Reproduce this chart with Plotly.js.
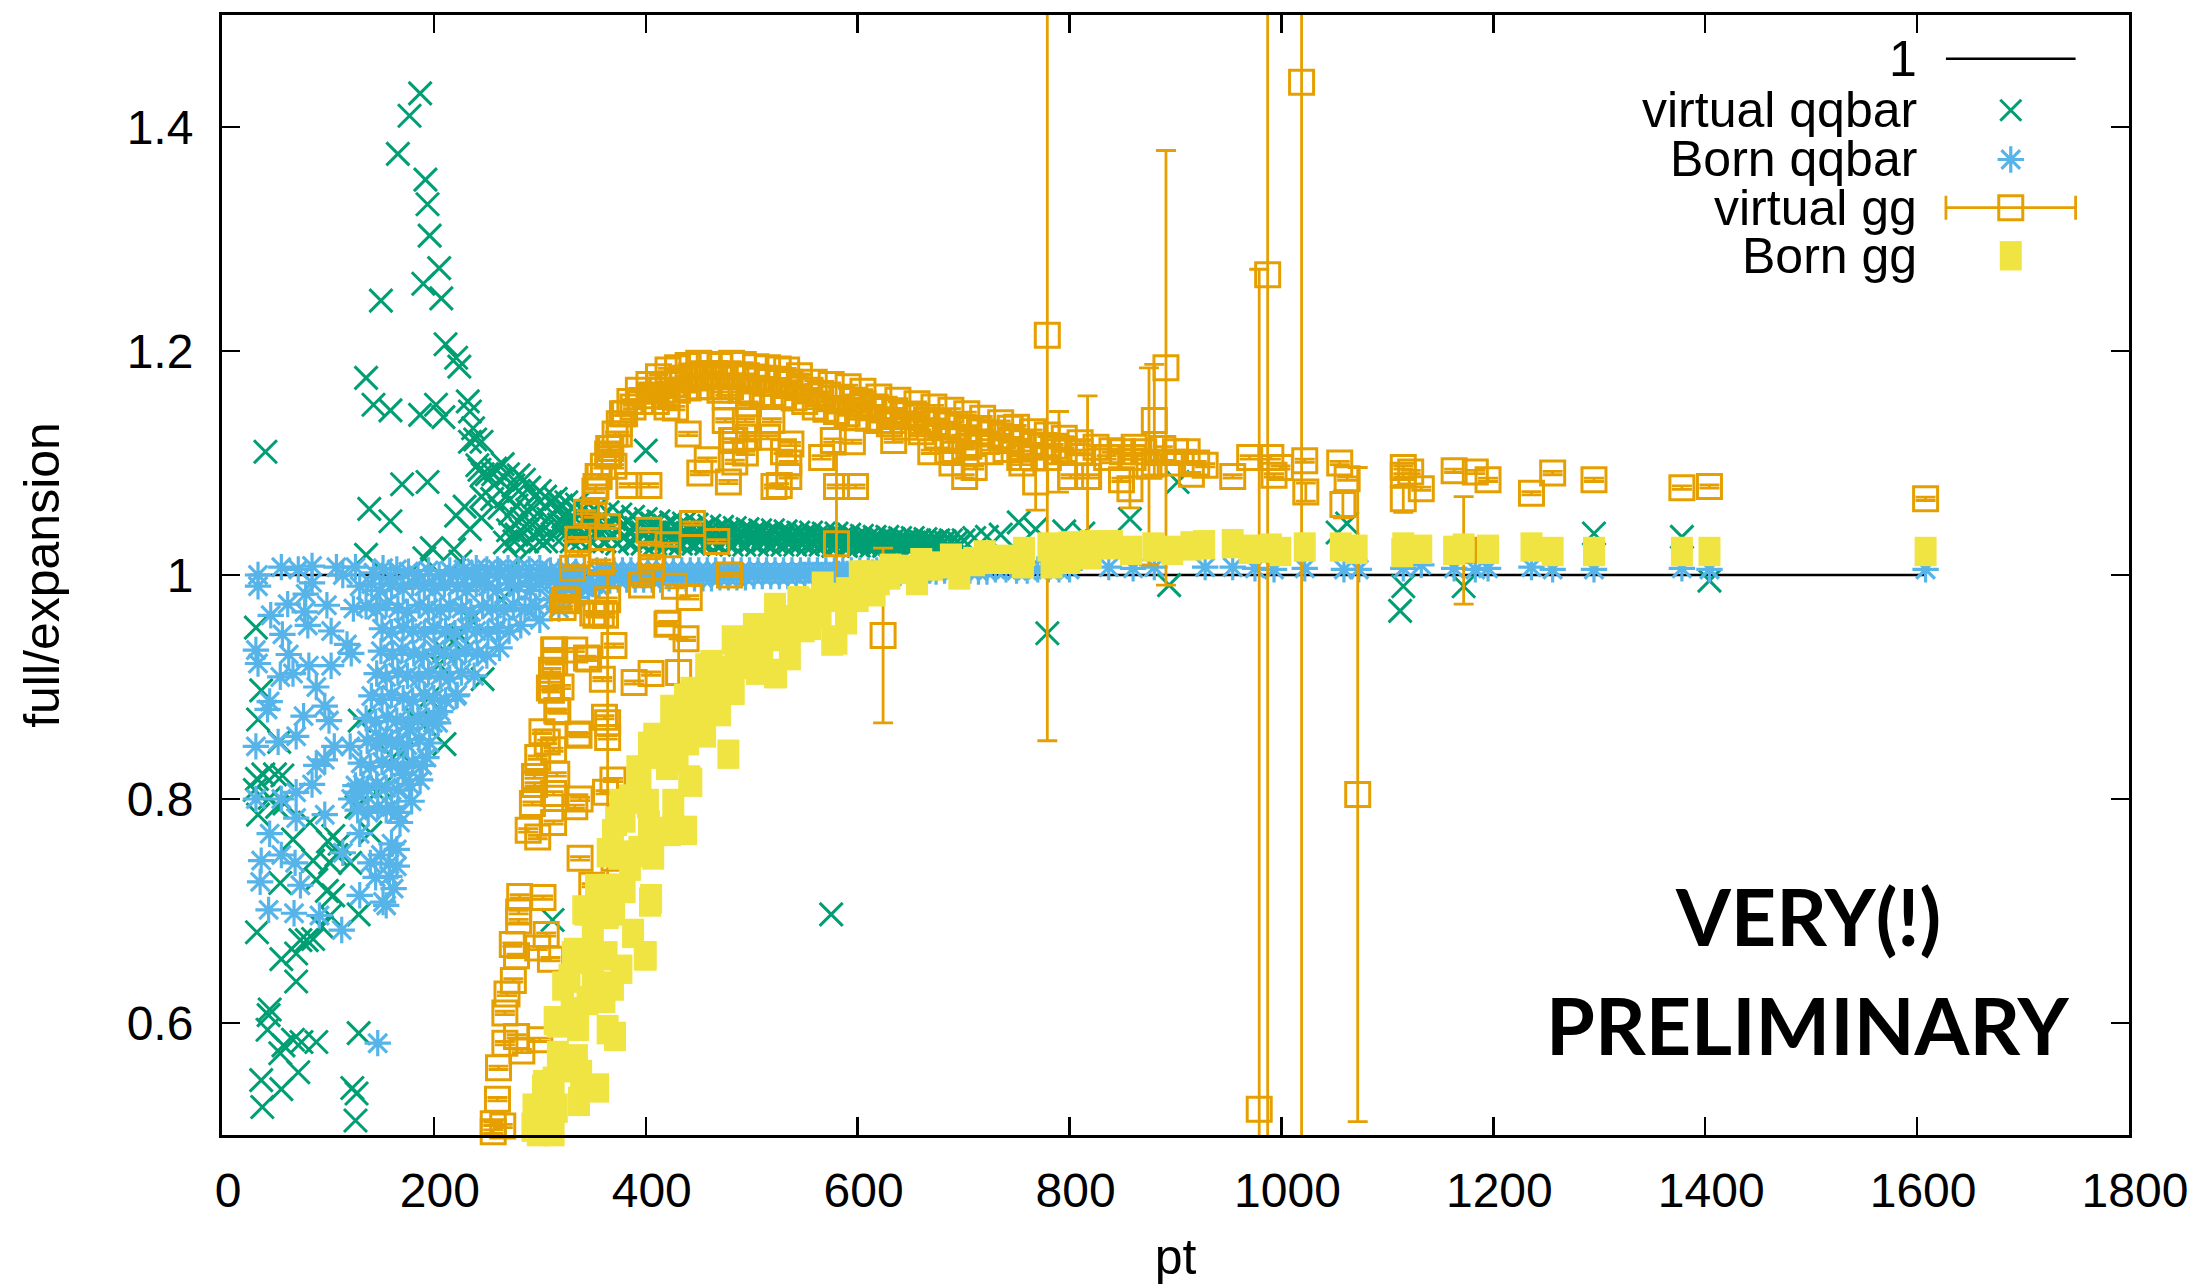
<!DOCTYPE html>
<html><head><meta charset="utf-8">
<script src="https://cdn.plot.ly/plotly-3.0.1.min.js"></script>
<style>html,body{margin:0;padding:0;background:#fff}</style></head>
<body><div id="chart" style="width:2211px;height:1285px"></div>
<script>
const unityPt = [25, 1607];
const unityRatio = [1, 1];
const virtualQQ = [[187,1.43],[177,1.41],[166,1.376],[192,1.353],[194,1.331],[196,1.303],[205,1.274],[190,1.26],[207,1.247],[150,1.245],[211,1.206],[221,1.194],[224,1.186],[136,1.176],[143,1.152],[159,1.147],[187,1.143],[202,1.152],[209,1.141],[232,1.155],[234,1.146],[237,1.131],[239,1.121],[245,1.119],[234,1.119],[41,1.11],[400,1.111],[243,1.094],[241,1.098],[246,1.09],[265,1.099],[256,1.09],[280,1.089],[170,1.081],[194,1.083],[139,1.059],[159,1.048],[136,1.018],[229,1.061],[221,1.053],[245,1.07],[245,1.051],[234,1.041],[198,1.024],[191,1.015],[219,1.023],[225,1.012],[267,1.029],[281,1.014],[278,1.036],
[32,.953],[37,.897],[34,.871],[54,.851],[33,.818],[39,.822],[50,.822],[57,.821],[31,.808],[45,.801],[59,.796],[34,.786],[52,.793],[83,.779],[67,.764],[105,.767],[111,.76],[100,.762],[86,.745],[102,.743],[121,.743],[55,.725],[89,.728],[99,.718],[105,.714],[33,.681],[74,.674],[80,.674],[86,.675],[129,.697],[102,.696],[94,.686],[56,.657],[70,.662],[70,.637],[45,.612],[44,.607],[43,.594],[58,.58],[67,.585],[75,.583],[89,.583],[129,.591],[55,.573],[72,.556],[37,.549],[56,.541],[123,.542],[127,.537],[38,.525],[126,.513],[312,.692],[575,.697],
[264,.978],[225,.946],[210,.932],[246,.907],[210,.849],[161,.837],[146,.806],[130,.87],[127,.793],[140,.77],[150,.81],[170,.84],[185,.87],[195,.89],[218,.94],[205,.92],[235,.96],[108,.75],
[250,1.09],[258,1.095],[262,1.085],[270,1.09],[275,1.08],[280,1.075],[285,1.085],[290,1.078],[295,1.07],[300,1.075],[305,1.07],[310,1.065],[315,1.068],[320,1.062],[325,1.065],[330,1.06],[335,1.063],[255,1.068],[262,1.06],[268,1.07],[272,1.055],[278,1.062],[283,1.05],[288,1.058],[293,1.045],[298,1.055],[303,1.04],[308,1.05],[313,1.035],[318,1.045],[323,1.035],[328,1.05],[333,1.04],[338,1.03],[270,1.04],[276,1.03],[282,1.04],[288,1.03],[294,1.035],[300,1.03],[306,1.03],[312,1.055],[318,1.06],[322,1.052],[326,1.043],[330,1.03],[334,1.05],[337,1.055],
[340,1.058],[344,1.048],[346,1.054],[350,1.045],[352,1.058],[355,1.04],[358,1.052],[361,1.044],[364,1.056],[367,1.045],[370,1.05],[373,1.04],[376,1.054],[379,1.044],[382,1.048],[385,1.04],[388,1.052],[391,1.042],[394,1.047],[397,1.038],[400,1.05],[403,1.04],[406,1.046],[409,1.038],[412,1.048],[415,1.04],[418,1.044],[421,1.038],[424,1.047],[427,1.038],[430,1.043],[433,1.037],[436,1.046],[439,1.037],[442,1.042],[445,1.036],[448,1.045],[451,1.037],[454,1.041],[457,1.036],[460,1.044],[463,1.036],[466,1.04],[469,1.035],[472,1.043],[475,1.036],[478,1.04],[481,1.035],[484,1.042],[487,1.035],[490,1.039],[493,1.035],[496,1.041],[499,1.035],[502,1.038],[505,1.034],[508,1.04],[511,1.034],[514,1.037],[517,1.034],[520,1.04],[523,1.033],[526,1.037],[529,1.033],[532,1.039],[535,1.033],[538,1.036],[541,1.033],[544,1.038],[547,1.033],[550,1.036],[553,1.032],[556,1.038],[559,1.032],[562,1.035],[565,1.032],[568,1.037],[571,1.032],[574,1.034],[577,1.031],[580,1.037],[583,1.031],[586,1.034],[589,1.031],[592,1.036],[595,1.03],[598,1.033],[601,1.03],[604,1.035],[607,1.03],[610,1.033],[613,1.03],[616,1.034],[619,1.03],[622,1.032],[625,1.029],[628,1.034],[631,1.029],[634,1.032],[637,1.029],[640,1.033],[643,1.029],[646,1.031],[649,1.029],[652,1.033],[655,1.029],[658,1.031],[661,1.029],[664,1.032],[667,1.029],[670,1.03],[673,1.029],[676,1.031],[682,1.03],[688,1.031],[694,1.03],[700,1.031],[710,1.033],[722,1.034],[735,1.036],[752,1.047],[768,1.041],[795,1.039],[813,1.037],[857,1.05],[902,1.083],[894,.991],[779,.948],[1062,1.046],[1053,1.038],[1115,.99],[1112,.968],[1172,.99],[1404,.995],[1295,1.037],[1378,1.034],
[343,1.035],[349,1.03],[355,1.034],[361,1.03],[367,1.034],[373,1.028],[379,1.033],[385,1.03],[391,1.032],[397,1.028],[403,1.031],[409,1.028],[415,1.031],[421,1.028],[427,1.03],[433,1.028],[439,1.03],[445,1.028],[451,1.03],[457,1.028],[463,1.03],[469,1.027],[475,1.03],[481,1.027],[487,1.03],[493,1.027],[499,1.03],[505,1.027],[511,1.03],[517,1.027],[523,1.029],[529,1.027],[535,1.029],[541,1.027],[547,1.029],[553,1.027],[559,1.028],[565,1.027],[571,1.028],[577,1.026],[583,1.028],[589,1.026],[595,1.028],[601,1.026],[607,1.027],[613,1.026],[619,1.027],[625,1.026],[631,1.027],[637,1.026],[643,1.027],[649,1.026],[655,1.027],[661,1.026],[667,1.027],[673,1.026],[679,1.027],[685,1.026],[691,1.027],[697,1.027]];
const bornQQ = [[34,.99],[34,1.0],[46,.964],[62,.974],[79,.983],[99,.973],[78,.967],[81,.955],[57,.947],[103,.95],[124,.97],[118,.938],[122,.93],[32,.933],[34,.921],[63,.929],[82,.919],[103,.919],[55,.909],[67,.912],[89,.9],[45,.887],[97,.883],[77,.874],[101,.87],[43,.88],[32,.847],[53,.851],[70,.856],[106,.847],[121,.847],[97,.835],[89,.83],[85,.813],[70,.806],[32,.8],[56,.8],[70,.783],[97,.786],[45,.769],[56,.75],[37,.745],[69,.743],[36,.726],[74,.723],[44,.701],[68,.698],[92,.696],[113,.683],[152,.708],[130,.714],[147,.582],
[133,.813],[127,.806],[122,.8],[130,.769],[114,.752],[140,.743],[158,.742],[165,.755],[158,.731],[168,.779],[160,.793],[187,.817],[179,.798],[171,.822],[193,.837],[160,.851],[177,.863],[149,.854],[199,.868],[206,.878],[221,.892],[165,.74],[150,.75],[160,.76],[145,.73],[162,.72],[155,.705],
[130,.99],[141,.992],[149,.986],[160,.991],[171,.988],[180,.993],[191,.99],[201,.987],[210,.992],[222,.99],[231,.986],[240,.992],[251,.99],[260,.987],[271,.992],[280,.99],[291,.986],[300,.992],
[136,.972],[146,.969],[155,.974],[166,.97],[175,.967],[186,.973],[195,.97],[206,.968],[215,.973],[226,.97],[235,.967],[246,.972],[255,.97],[266,.968],[275,.973],[286,.97],[296,.972],
[151,.952],[160,.949],[171,.953],[180,.95],[191,.948],[200,.953],[211,.95],[220,.948],[231,.953],[240,.95],[251,.948],[260,.953],[271,.95],[282,.955],
[150,.932],[161,.929],[170,.933],[181,.93],[190,.928],[201,.933],[210,.93],[221,.928],[230,.933],[241,.93],[250,.928],[262,.935],
[146,.912],[155,.909],[166,.913],[175,.91],[186,.908],[195,.913],[206,.91],[215,.908],[226,.913],[238,.91],
[141,.892],[151,.889],[160,.893],[171,.89],[180,.888],[191,.893],[200,.89],[211,.888],[222,.893],
[136,.872],[145,.869],[156,.873],[165,.87],[176,.868],[185,.873],[195,.87],[204,.868],
[137,.852],[146,.849],[155,.853],[166,.85],[175,.848],[186,.853],[196,.85],
[131,.832],[140,.829],[151,.833],[160,.83],[171,.828],[180,.833],[189,.83],
[126,.812],[137,.809],[146,.813],[155,.81],[166,.808],[177,.813],
[128,.79],[138,.788],[147,.793],[155,.79],[166,.788],
[310,.978],[322,.985],[334,.98],[346,.988],[356,.99],[318,.97],[300,.96],
[56,1.007],[72,1.005],[85,1.008],[108,1.007],[126,1.007],[114,1.0],[143,1.002],[159,.998],[176,1.003],[85,.993],[205,1.0],[215,1.004],[228,1.005],[240,1.006],[250,1.005],[260,1.005],[270,1.006],[280,1.005],[290,1.005],[300,1.006],[195,1.004],[185,1.0],[165,1.005],[152,1.006],[236,1.0],[222,1.0],[248,.998],[262,1.0],[276,1.0],[292,.998],[306,1.0],
[310,1.004],[314,.995],[318,1.003],[322,.994],[326,1.005],[330,.995],[334,1.003],[338,.99],[342,1.004],[346,.995],[350,.992],[354,1.004],[358,.995],[362,1.004],[366,.995],[370,1.004],[374,.996],[378,1.004],[382,.996],[386,1.004],[390,.996],[394,1.004],[398,.996],[402,1.004],[406,.996],[410,1.004],[414,.996],[418,1.004],[422,.997],[426,1.004],[430,.997],[434,1.004],[438,.997],[442,1.004],[446,.997],[450,1.004],[454,.997],[458,1.004],[462,.997],[466,1.004],[470,.998],[474,1.004],[478,.998],[482,1.004],[486,.998],[490,1.004],[494,.998],[498,1.004],[502,.999],[506,1.004],[510,.999],[514,1.004],[518,.999],[522,1.004],[526,.999],[530,1.004],[534,.999],[538,1.004],[542,.999],[546,1.004],[550,1.0],[554,1.004],[558,1.0],[562,1.004],[566,1.0],[570,1.004],[574,1.0],[578,1.004],[582,1.001],[586,1.004],[590,1.001],[594,1.004],[598,1.001],[602,1.004],[606,1.001],[610,1.004],[614,1.002],[618,1.004],[622,1.002],[626,1.004],[630,1.002],[636,1.004],[640,1.002],[646,1.004],[650,1.003],[656,1.004],[662,1.003],[668,1.004],[674,1.003],[682,1.004],[690,1.003],[698,1.004],[706,1.004],[714,1.003],[722,1.003],[730,1.005],[740,1.005],[750,1.004],[760,1.004],[770,1.005],[780,1.005],[790,1.005],[800,1.005],
[837,1.007],[860,1.006],[880,1.007],[928,1.007],[954,1.007],[975,1.006],[993,1.005],[1022,1.006],[1059,1.005],[1073,1.005],[1115,1.006],[1132,1.009],[1163,1.006],[1183,1.005],[1195,1.006],[1236,1.007],[1256,1.005],[1295,1.005],[1378,1.006],[1404,1.005],[1608,1.005]];
const virtualGG = [[352,1.075],[356,1.088],[360,1.097],[364,1.108],[367,1.113],[371,1.126],[375,1.135],[378,1.144],[385,1.155],[393,1.165],[403,1.17],[412,1.177],[421,1.183],[430,1.185],[440,1.187],[450,1.189],[460,1.188],[470,1.187],[481,1.189],[492,1.188],[504,1.186],[515,1.185],[525,1.184],[533,1.183],[545,1.178],[559,1.172],[575,1.17],[591,1.168],[605,1.164],[620,1.159],[638,1.156],[656,1.153],[672,1.15],[688,1.147],[703,1.144],[718,1.14],[735,1.136],[750,1.132],[765,1.128],[779,1.125],[795,1.122],[810,1.118],[825,1.114],[850,1.11],[870,1.11],[900,1.11],[920,1.1],
[388,1.15],[395,1.155],[405,1.16],[415,1.165],[425,1.17],[435,1.174],[445,1.176],[455,1.178],[465,1.18],[475,1.178],[485,1.178],[495,1.178],[505,1.176],[515,1.175],[525,1.174],[535,1.172],[545,1.168],[555,1.165],[565,1.162],[575,1.158],[585,1.158],[595,1.156],[605,1.153],[615,1.15],[625,1.148],[635,1.146],[645,1.143],[655,1.142],[665,1.138],[675,1.136],[685,1.134],[695,1.132],[705,1.13],[715,1.128],[725,1.126],[735,1.124],[745,1.12],[755,1.118],[765,1.116],[775,1.115],[785,1.115],[795,1.112],[810,1.11],[835,1.105],[860,1.105],[880,1.1],[895,1.1],
[410,1.155],[420,1.16],[430,1.165],[440,1.167],[450,1.168],[460,1.168],[470,1.165],[480,1.168],[490,1.165],[500,1.164],[510,1.162],[520,1.162],[530,1.16],[540,1.158],[550,1.155],[560,1.15],[570,1.148],[580,1.146],[590,1.144],[600,1.15],[610,1.14],[620,1.138],[630,1.135],[645,1.132],[660,1.128],[675,1.124],[690,1.12],[705,1.115],[725,1.11],[740,1.112],[765,1.105],[780,1.105],
[440,1.126],[458,1.103],[451,1.091],[478,1.083],[484,1.101],[494,1.109],[481,1.12],[497,1.123],[519,1.138],[515,1.123],[537,1.117],[530,1.11],[535,1.1],[535,1.088],[526,1.08],[521,1.079],[566,1.105],[580,1.079],[598,1.079],[577,1.12],[595,1.119],[634,1.12],[634,1.138],[600,1.141],[661,1.135],[669,1.11],[685,1.111],[689,1.1],[710,1.096],[701,1.088],[701,1.114],[753,1.105],[755,1.1],[768,1.083],[779,1.214],[580,1.028],
[420,1.15],[428,1.149],[475,1.159],[497,1.153],[475,1.138],[494,1.138],[484,1.12],[384,1.08],[403,1.08],[353,1.079],[355,1.088],[370,1.097],[365,1.113],[365,1.107],[375,1.126],[380,1.144],
[344,1.056],[351,1.053],[364,1.043],[403,1.04],[444,1.046],[421,1.027],[467,1.03],[336,1.032],[336,1.019],[331,1.006],[358,1.012],[405,1.016],[406,1.007],[479,1.0],[396,.991],[427,.99],[441,.98],[326,.977],[322,.971],[364,.978],[353,.964],[362,.964],[421,.957],[438,.943],[313,.933],[333,.933],[346,.925],[370,.937],[359,.907],[389,.904],[405,.912],[431,.913],[311,.915],[311,.897],[317,.878],[361,.873],[302,.86],[337,.857],[364,.855],
[324,.978],[350,.966],[358,.965],[420,.956],[314,.933],[344,.926],[314,.922],[320,.9],[309,.899],[316,.879],[336,.858],[307,.851],[313,.844],[298,.837],[316,.822],[295,.82],[295,.813],[369,.817],[362,.806],[293,.796],[313,.805],[338,.8],[333,.793],[313,.779],[289,.772],[298,.766],[338,.747],[370,.747],[349,.723],[281,.713],[303,.712],[280,.699],[280,.691],[274,.67],[278,.66],[306,.679],[298,.667],[310,.657],[275,.638],[269,.626],[267,.609],[267,.582],[278,.588],[300,.585],[283,.575],[261,.56],[260,.532],[256,.51],[265,.508],[256,.503],
[744,1.131],[756,1.105],[801,1.088],[818,1.088],[840,1.111],[849,1.085],[857,1.077],[861,1.114],[880,1.138],[888,1.113],[911,1.11],[915,1.09],[928,1.098],[954,1.088],[970,1.105],[990,1.105],[999,1.096],[993,1.089],[1022,1.102],[1023,1.074],[1055,1.1],[1062,1.086],[1058,1.063],[1115,1.096],[1122,1.092],[1115,1.089],[1115,1.068],[1132,1.077],[1163,1.093],[1183,1.092],[1195,1.085],[1236,1.073],[1256,1.091],[1295,1.085],[1378,1.078],[1404,1.079],[1608,1.068],[624,.946],[891,1.185],[1072,.804],[817,1.088],[875,1.097],[790,1.11],[364,.868],[1172,1.022]];
const virtualGGerr = {"779,1.214":.362,"891,1.185":.194,"1072,.804":.292,"624,.946":.078,"817,1.088":.072,"875,1.097":.088,"790,1.11":.036,"364,.868":.136,"1172,1.022":.048,"768,1.083":.025,"580,1.028":.08,"431,.913":.03,"857,1.077":.017,"1115,1.068":.012,"1058,1.063":.012,"880,1.138":.05,"1023,1.074":.008};
const hugeErrorGG = [[987,1.268,1.2],[979,.523,.75],[1019,1.44,1.2]];
const bornGG = [[293,.507],[304,.545],[317,.6],[331,.66],[343,.7],[364,.72],[372,.78],[376,.796],[392,.826],[403,.847],[408,.855],[424,.88],[437,.89],[443,.896],[457,.917],[462,.92],[482,.942],[502,.953],[522,.971],[544,.977],[567,.99],[602,1.0],[631,1.006],[660,1.011],[688,1.015],[720,1.018],[757,1.021],[780,1.025],[800,1.026],[820,1.027],[840,1.027],[858,1.022],[879,1.025],[897,1.022],[915,1.026],[927,1.027],
[405,.711],[388,.68],[400,.66],[364,.594],[371,.588],[336,.597],[314,.602],[355,.542],[337,.53],[339,.554],[335,.568],[317,.571],[313,.548],[303,.541],[316,.524],[294,.524],[313,.503],[298,.503],[361,.622],[377,.648],[369,.633],[322,.633],[350,.639],[341,.657],[333,.663],[363,.66],[353,.697],[341,.701],[364,.697],[353,.72],[402,.752],[394,.754],[364,.752],[369,.769],[426,.796],[441,.817],[438,.772],[426,.772],[402,.796],[380,.783],[478,.84],[443,.815],[423,.771],[403,.777],[407,.75],[404,.708],[399,.66],
[576,.941],[549,.953],[523,.912],[483,.897],[456,.859],[416,.847],[440,.852],[470,.878],[536,.928],[589,.96],[616,.985],[656,.995],[696,1.0],[580,.942],[522,.912],[505,.915],[495,.94],[515,.95],[535,.96],[550,.975],[570,.98],[590,.985],[610,1.0],[630,1.0],[650,1.005],[670,1.008],[690,1.01],[710,1.012],[730,1.014],[750,1.014],[756,1.01],[783,1.01],[800,1.014],[820,1.018],[395,.82],[410,.84],[425,.86],[440,.875],[455,.895],[470,.915],[485,.93],[420,.83],[385,.8],[375,.75],[350,.68],[330,.61],[345,.62],[380,.72],[430,.835],[450,.87],[465,.89],[490,.92],[510,.935],[530,.945],[555,.955],[565,.965],[600,.98],[620,.995],[360,.70],[370,.70],[385,.74],[345,.66],[325,.56],[305,.52],[328,.64],
[954,1.028],[970,1.023],[990,1.024],[999,1.021],[1022,1.025],[1056,1.025],[1071,1.023],[1115,1.025],[1114,1.02],[1132,1.023],[1163,1.022],[1172,1.024],[1195,1.023],[1236,1.025],[1256,1.021],[1295,1.021],[1378,1.021],[1404,1.021],[1608,1.021]];
const yTickVals = [0.6, 0.8, 1, 1.2, 1.4];
const yTickText = ['0.6', '0.8', '1', '1.2', '1.4'];
const xTickVals = [0,200,400,600,800,1000,1200,1400,1600,1800];
const legendNames = ['1', 'virtual qqbar', 'Born qqbar', 'virtual gg', 'Born gg'];

const col = p => p.map(r => r[0]), val = p => p.map(r => r[1]);
const GREEN='#009E73', BLUE='#56B4E9', GOLD='#E69F00', YELLOW='#F0E442';
const F = 'Liberation Sans, Arial, sans-serif';
const LEG_Y = [0.961, 0.915, 0.871, 0.828, 0.785];
const xMark = {symbol:'x-thin', size:23, color:GREEN, line:{color:GREEN, width:3}};
const starMark = {symbol:'asterisk', size:22, color:BLUE, line:{color:BLUE, width:3.2}};
const boxMark = {symbol:'square-open', size:24, color:GOLD, line:{color:GOLD, width:3}};
const fillMark = {symbol:'line-ns', size:21, color:YELLOW, line:{color:YELLOW, width:22}};
const errs = virtualGG.map(r => virtualGGerr[r[0] + ',' + String(r[1]).replace(/^0/, '')] || 0.0015);
const data = [
 {x:unityPt, y:unityRatio, mode:'lines', line:{color:'#000', width:2.6}, cliponaxis:true},
 {x:col(virtualQQ), y:val(virtualQQ), mode:'markers', marker:xMark, cliponaxis:false},
 {x:col(bornQQ), y:val(bornQQ), mode:'markers', marker:starMark, cliponaxis:false},
 {x:col(hugeErrorGG), y:val(hugeErrorGG), mode:'markers', marker:{...boxMark}, cliponaxis:true,
  error_y:{type:'data', array:hugeErrorGG.map(r=>r[2]), color:GOLD, thickness:2.8, width:10}},
 {x:col(virtualGG), y:val(virtualGG), mode:'markers', marker:boxMark, cliponaxis:false,
  error_y:{type:'data', array:errs, color:GOLD, thickness:2.8, width:10}},
 {x:col(bornGG), y:val(bornGG), mode:'markers', marker:fillMark, cliponaxis:false},
 // key samples on a 0..1 overlay
 {x:[0.904,0.972], y:[LEG_Y[0],LEG_Y[0]], xaxis:'x2', yaxis:'y2', mode:'lines', line:{color:'#000', width:2.6}},
 {x:[0.938], y:[LEG_Y[1]], xaxis:'x2', yaxis:'y2', mode:'markers', marker:{...xMark, size:21}},
 {x:[0.938], y:[LEG_Y[2]], xaxis:'x2', yaxis:'y2', mode:'markers', marker:starMark},
 {x:[0.938], y:[LEG_Y[3]], xaxis:'x2', yaxis:'y2', mode:'markers', marker:boxMark,
  error_x:{type:'constant', value:0.034, color:GOLD, thickness:2.8, width:12}},
 {x:[0.938], y:[LEG_Y[4]], xaxis:'x2', yaxis:'y2', mode:'markers', marker:fillMark}
];
const axisCommon = {showgrid:false, zeroline:false, showline:true, mirror:'allticks', ticks:'inside',
  ticklen:18, tickwidth:2.4, tickcolor:'#000', linecolor:'#000', linewidth:3,
  tickfont:{family:F, size:48, color:'#000'}};
const anns = legendNames.map((t,i)=>({text:t, xref:'paper', yref:'paper', x:0.8897, y:LEG_Y[i], xanchor:'right', yanchor:'middle', showarrow:false, font:{family:F, size:50, color:'#000'}}));
anns.push(
 {text:'VERY(!)', xref:'paper', yref:'paper', x:0.8315, y:0.196, xanchor:'center', yanchor:'middle', showarrow:false, font:{family:'Lato', size:79, color:'#000', weight:700}},
 {text:'PRELIMINARY', xref:'paper', yref:'paper', x:0.8315, y:0.099, xanchor:'center', yanchor:'middle', showarrow:false, font:{family:'Lato', size:79, color:'#000', weight:700}}
);
const layout = {
 width:2211, height:1285, paper_bgcolor:'#fff', plot_bgcolor:'#fff', showlegend:false,
 margin:{l:221.5, r:81.5, t:15, b:150, pad:0},
 xaxis:{...axisCommon, range:[0,1800], tickmode:'array', tickvals:xTickVals, ticklabelstandoff:11, ticklabelshift:6,
   title:{text:'pt', font:{family:F, size:50, color:'#000'}, standoff:27}},
 yaxis:{...axisCommon, range:[0.5,1.5], tickmode:'array', tickvals:yTickVals, ticktext:yTickText, ticklabelstandoff:16,
   title:{text:'full/expansion', font:{family:F, size:50, color:'#000'}, standoff:52}},
 xaxis2:{overlaying:'x', range:[0,1], visible:false},
 yaxis2:{overlaying:'y', range:[0,1], visible:false},
 annotations:anns
};
Plotly.newPlot('chart', data, layout, {displayModeBar:false, staticPlot:true});
</script></body></html>
